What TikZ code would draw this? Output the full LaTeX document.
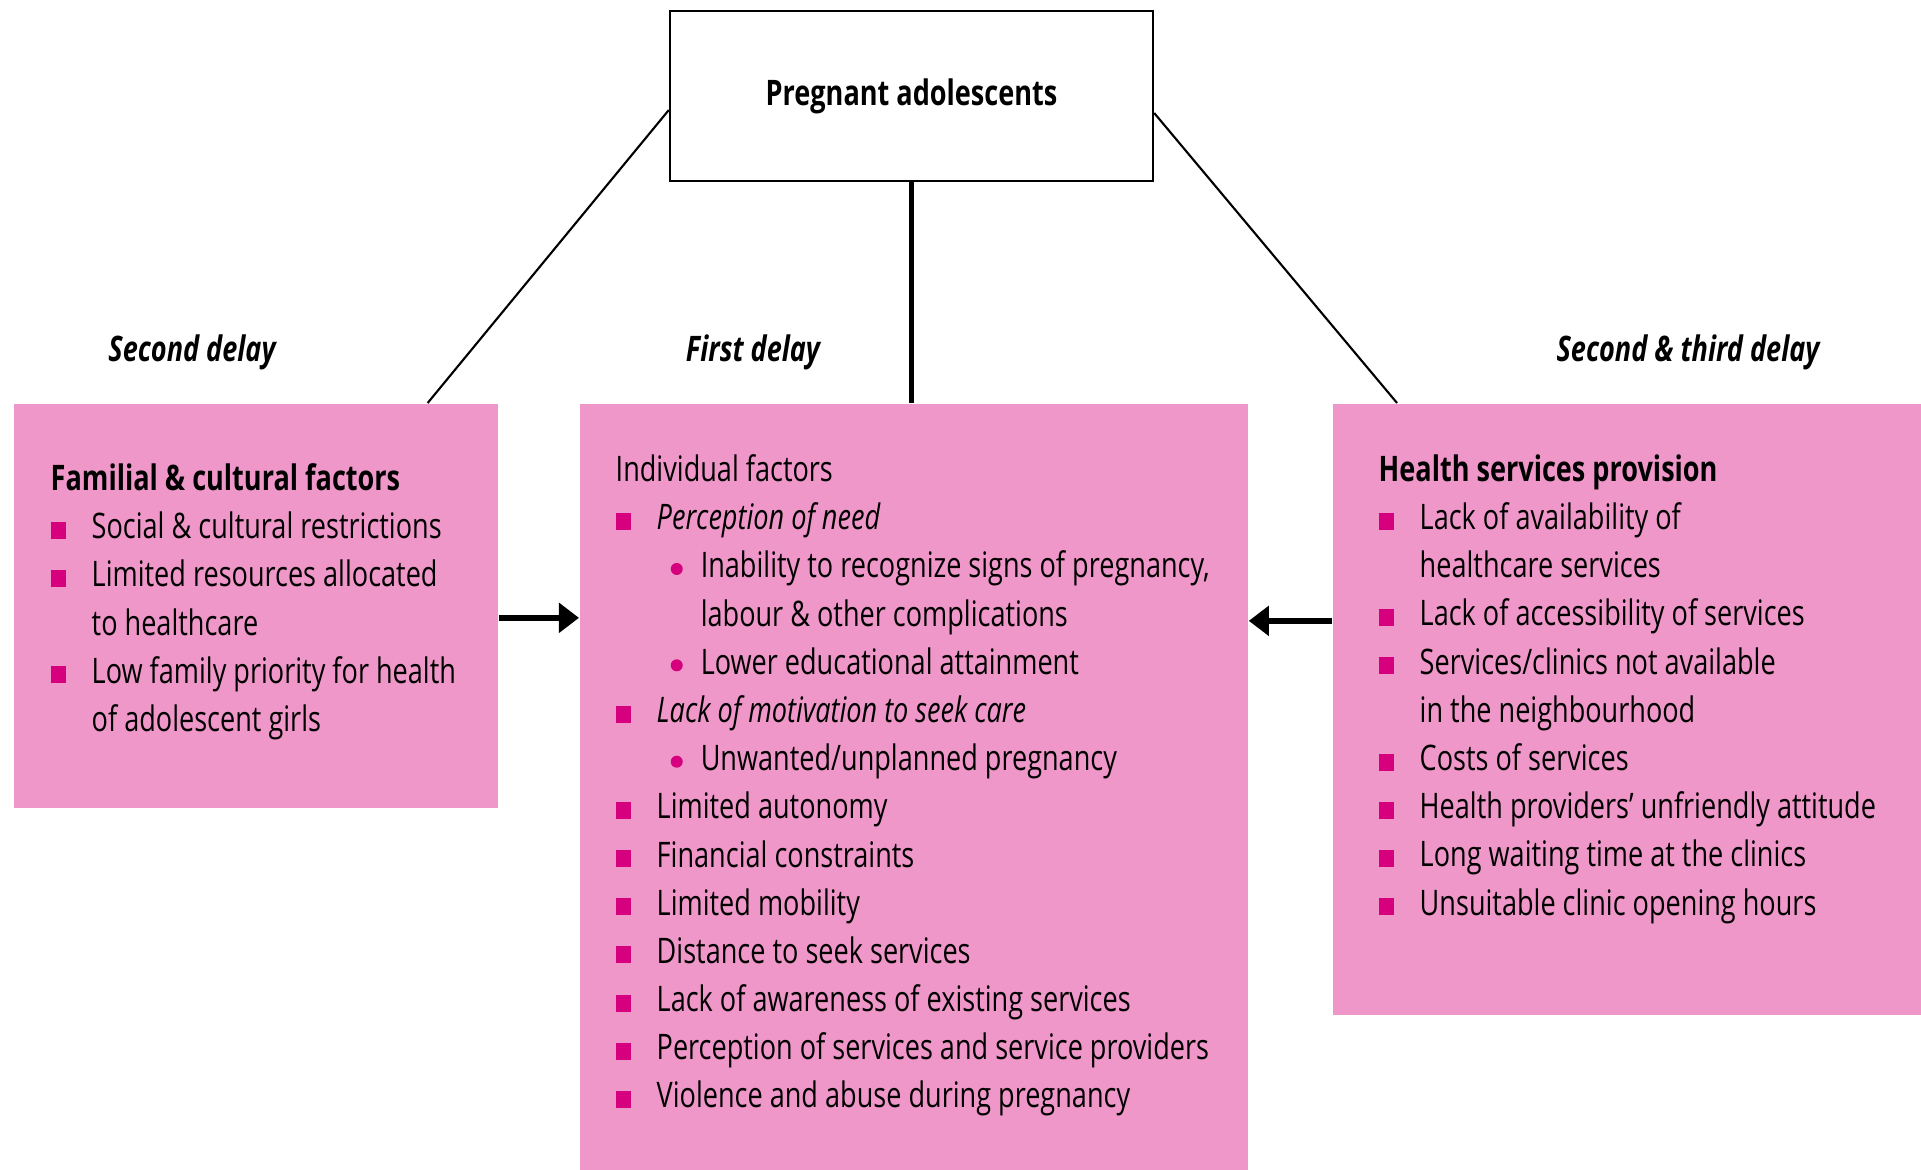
\documentclass[tikz,border=0pt]{standalone}
\usepackage{fontspec}
\setmainfont[FakeStretch=0.77]{Open Sans}
\usetikzlibrary{positioning,arrows.meta}

\definecolor{boxpink}{RGB}{239,151,201}
\definecolor{bulletpink}{RGB}{214,0,126}

% list markers
\newcommand{\sqb}{\makebox[0.41cm][l]{\textcolor{bulletpink}{\rule{0.15cm}{0.17cm}}}}
\newcommand{\dotb}{\hspace*{0.55cm}\makebox[0.30cm][l]{%
  \tikz[baseline=0pt]\fill[bulletpink] (0.06cm,0.09cm) circle (0.06cm);}}
\newcommand{\cont}{\hspace*{0.41cm}}
\newcommand{\subcont}{\hspace*{0.85cm}}

\begin{document}
\begin{tikzpicture}[x=0.01cm,y=-0.01cm,
  box/.style={fill=boxpink,inner sep=0,anchor=north west},
  list/.style={align=left,inner sep=0,anchor=north west,font=\fontsize{10}{13.7}\selectfont},
  delay/.style={font=\fontsize{10}{12}\selectfont\bfseries\itshape},
  link/.style={line width=0.6pt},
  arr/.style={line width=1.9pt,-{Triangle[length=0.2cm,width=0.29cm]}}]
  \useasboundingbox (0,0) rectangle (1921,1169);

  % factor boxes
  \node[box,minimum width=4.84cm,minimum height=4.04cm] (fam) at (13,403) {};
  \node[box,minimum width=6.68cm,minimum height=7.66cm] (ind) at (579,403) {};
  \node[box,minimum width=5.89cm,minimum height=6.11cm] (hsp) at (1332,403) {};

  \node[draw,line width=0.6pt,minimum width=4.83cm,minimum height=1.70cm,
    font=\fontsize{10}{12}\selectfont\bfseries] (preg) at (911.5,96) {Pregnant adolescents};

  \node[delay] (d2) at (192,352) {Second delay};
  \node[delay] (d1) at (753,352) {First delay};
  \node[delay] (d23) at (1688,352) {Second \& third delay};

  \node[list] (famlist) at (50,463) {%
    {\bfseries Familial \& cultural factors}\\
    \sqb Social \& cultural restrictions\\
    \sqb Limited resources allocated\\
    \cont to healthcare\\
    \sqb Low family priority for health\\
    \cont of adolescent girls};

  \node[list] (indlist) at (615,454) {%
    Individual factors\\
    \sqb\textit{Perception of need}\\
    \dotb Inability to recognize signs of pregnancy,\\
    \subcont labour \& other complications\\
    \dotb Lower educational attainment\\
    \sqb\textit{Lack of motivation to seek care}\\
    \dotb Unwanted/unplanned pregnancy\\
    \sqb Limited autonomy\\
    \sqb Financial constraints\\
    \sqb Limited mobility\\
    \sqb Distance to seek services\\
    \sqb Lack of awareness of existing services\\
    \sqb Perception of services and service providers\\
    \sqb Violence and abuse during pregnancy};

  \node[list] (hsplist) at (1378,454) {%
    {\bfseries Health services provision}\\
    \sqb Lack of availability of\\
    \cont healthcare services\\
    \sqb Lack of accessibility of services\\
    \sqb Services/clinics not available\\
    \cont in the neighbourhood\\
    \sqb Costs of services\\
    \sqb Health providers' unfriendly attitude\\
    \sqb Long waiting time at the clinics\\
    \sqb Unsuitable clinic opening hours};

  % links from the top box
  \draw[link] ([yshift=-0.14cm]preg.west) -- ([xshift=-0.71cm]fam.north east);
  \draw[link] ([yshift=-0.17cm]preg.east) -- ([xshift=0.65cm]hsp.north west);
  \draw[line width=1.3pt] (preg.south) -- (preg.south |- ind.north);

  % arrows into the individual factors
  \coordinate (famarr) at ([yshift=-0.12cm]fam.east);
  \coordinate (hsparr) at ([yshift=0.885cm]hsp.west);
  \draw[arr] (famarr) -- (famarr -| ind.west);
  \draw[arr] (hsparr) -- (hsparr -| ind.east);
\end{tikzpicture}
\end{document}
